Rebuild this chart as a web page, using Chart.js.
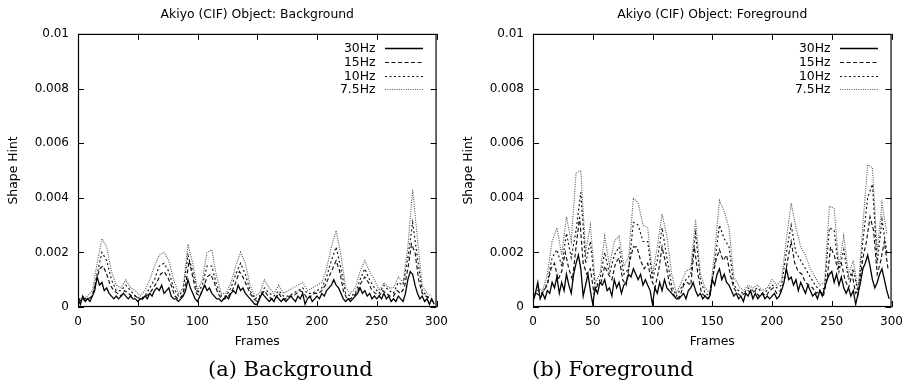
<!DOCTYPE html>
<html>
<head>
<meta charset="utf-8">
<script src="https://cdn.jsdelivr.net/npm/chart.js@4.4.1/dist/chart.umd.min.js"></script>
<style>
  html, body { margin: 0; padding: 0; background: #fff; }
  body { width: 913px; height: 383px; position: relative; overflow: hidden; }
  canvas { position: absolute; top: 0; }
  .caption { position: absolute; top: 359px; font-family: "DejaVu Serif", serif; font-size: 21px; line-height: 21px; color: #000; white-space: nowrap; }
</style>
</head>
<body>
<canvas id="chart-bg" width="456" height="383" style="left:0"></canvas>
<canvas id="chart-fg" width="456" height="383" style="left:455px"></canvas>
<div class="caption" style="left:208px">(a) Background</div>
<div class="caption" style="left:532px">(b) Foreground</div>
<script>
// y values are in units of 1e-4 (so 25 means 0.0025)
const Y_TICK_LABELS = ["0", "0.002", "0.004", "0.006", "0.008", "0.01"];
const SERIES_LABELS = ["30Hz", "15Hz", "10Hz", "7.5Hz"];
const FRAME_STEPS = [2, 3, 4, 4];

const bg30 = [
  3, 1, 4, 2, 3, 2, 4, 6, 11, 8,
  9, 6, 7, 5, 4, 3, 4, 3, 4, 5,
  4, 3, 4, 3, 3, 2, 3, 3, 4, 3,
  5, 4, 6, 7, 6, 8, 5, 6, 7, 4,
  3, 3, 2, 3, 4, 6, 10, 7, 5, 3,
  2, 4, 6, 8, 6, 7, 5, 4, 3, 3,
  2, 3, 4, 3, 5, 6, 5, 8, 6, 7,
  5, 4, 3, 2, 1, 1, 3, 5, 4, 3,
  2, 3, 2, 4, 3, 2, 3, 2, 3, 4,
  3, 2, 4, 3, 5, 1, 3, 4, 2, 3,
  4, 3, 5, 4, 6, 7, 8, 10, 8, 7,
  5, 3, 2, 3, 2, 3, 4, 5, 7, 5,
  6, 4, 5, 3, 4, 3, 4, 3, 5, 3,
  4, 2, 3, 2, 4, 3, 2, 5, 10, 13,
  12, 8, 5, 3, 4, 2, 3, 1, 3, 1
];
const bg15 = [
  3, 2, 3, 3, 4, 9, 14, 15, 12, 8,
  6, 5, 4, 6, 5, 4, 4, 3, 3, 4,
  5, 7, 9, 12, 13, 11, 8, 4, 3, 4,
  8, 17, 11, 5, 4, 7, 11, 12, 9, 5,
  3, 3, 4, 6, 9, 13, 11, 8, 5, 3,
  2, 4, 6, 4, 3, 3, 5, 3, 3, 4,
  4, 5, 6, 5, 3, 4, 5, 5, 6, 8,
  11, 14, 17, 13, 6, 3, 3, 4, 6, 9,
  11, 9, 6, 5, 4, 6, 5, 4, 4, 6,
  5, 7, 14, 23, 20, 10, 5, 4, 3, 2
];
const bg10 = [
  3, 3, 3, 4, 12, 20, 17, 10, 6, 6,
  8, 6, 4, 3, 4, 7, 10, 15, 16, 13,
  7, 4, 6, 19, 13, 5, 8, 15, 15, 8,
  4, 4, 7, 12, 16, 12, 6, 3, 4, 7,
  5, 4, 6, 4, 4, 5, 6, 7, 5, 5,
  6, 7, 11, 17, 22, 14, 5, 4, 5, 10,
  14, 10, 7, 5, 8, 6, 5, 9, 8, 18,
  31, 18, 6, 4, 3
];
const bg75 = [
  3, 3, 4, 6, 16, 25, 22, 13, 8, 7,
  10, 7, 6, 4, 6, 10, 15, 19, 20, 17,
  10, 5, 7, 23, 16, 6, 10, 20, 21, 11,
  5, 5, 9, 15, 20, 16, 8, 4, 5, 10,
  7, 5, 8, 5, 6, 7, 8, 9, 6, 7,
  8, 9, 14, 22, 28, 19, 7, 5, 7, 13,
  17, 13, 10, 6, 9, 7, 7, 11, 9, 22,
  43, 25, 8, 5, 4
];

const fg30 = [
  2, 5, 9, 3, 5, 3, 6, 5, 9, 7,
  11, 5, 9, 6, 12, 8, 5, 12, 16, 19,
  14, 4, 8, 12, 6, 1, 7, 5, 9, 8,
  10, 6, 7, 4, 10, 7, 9, 5, 8, 9,
  12, 11, 14, 12, 10, 12, 8, 10, 8, 6,
  1, 7, 5, 9, 6, 10, 7, 6, 5, 4,
  3, 3, 4, 5, 3, 6, 7, 9, 6, 4,
  5, 3, 4, 3, 4, 10, 8, 12, 14, 10,
  12, 9, 8, 6, 4, 5, 3, 4, 2, 5,
  4, 6, 3, 5, 3, 4, 5, 3, 4, 3,
  4, 5, 3, 4, 6, 9, 14, 10, 11, 8,
  10, 6, 9, 7, 5, 8, 6, 4, 5, 3,
  6, 4, 7, 10, 12, 13, 9, 12, 8, 11,
  7, 5, 7, 4, 6, 1, 5, 9, 14, 16,
  19, 15, 10, 7, 9, 12, 14, 10, 6, 3
];
const fg15 = [
  3, 5, 4, 6, 8, 14, 16, 10, 13, 20,
  14, 10, 22, 33, 16, 12, 14, 5, 8, 9,
  15, 12, 10, 16, 18, 10, 8, 17, 22, 22,
  17, 14, 16, 10, 7, 13, 22, 16, 9, 5,
  3, 4, 8, 9, 8, 22, 12, 5, 4, 3,
  10, 17, 21, 17, 19, 12, 7, 5, 4, 5,
  6, 5, 6, 4, 5, 4, 6, 7, 5, 6,
  9, 17, 24, 16, 13, 12, 9, 8, 7, 5,
  6, 4, 10, 22, 19, 14, 16, 10, 7, 12,
  5, 7, 18, 24, 33, 28, 12, 17, 24, 14
];
const fg10 = [
  3, 6, 5, 9, 18, 21, 15, 27, 18, 28,
  42, 16, 24, 7, 10, 20, 12, 19, 22, 12,
  14, 31, 30, 24, 24, 10, 17, 29, 18, 8,
  4, 7, 10, 12, 27, 10, 5, 4, 16, 30,
  25, 22, 8, 6, 5, 7, 6, 7, 5, 6,
  8, 7, 8, 20, 30, 20, 17, 14, 11, 8,
  6, 7, 29, 28, 13, 21, 10, 14, 5, 24,
  40, 45, 16, 32, 20
];
const fg75 = [
  4, 7, 6, 12, 24, 29, 19, 33, 24, 49,
  50, 20, 30, 9, 12, 26, 15, 24, 26, 15,
  18, 40, 38, 30, 29, 12, 22, 34, 26, 12,
  5, 9, 13, 14, 32, 12, 7, 5, 20, 39,
  35, 29, 11, 8, 6, 8, 7, 8, 6, 7,
  10, 8, 10, 25, 38, 29, 22, 19, 14, 11,
  8, 9, 37, 36, 15, 26, 12, 17, 6, 30,
  52, 51, 20, 38, 27
];

const LINE_STYLES = [
  { color: "#000", dash: [], width: 1.3 },
  { color: "#111", dash: [4, 2.5], width: 1.15 },
  { color: "#111", dash: [2, 2.5], width: 1.15 },
  { color: "#555", dash: [1, 1.3], width: 1.1 }
];

Chart.defaults.font.family = "DejaVu Sans";
Chart.defaults.font.size = 12;
Chart.defaults.color = "#000";

// gnuplot-like frame, inward ticks on all four sides and the key
const gnuplotFrame = {
  id: "gnuplotFrame",
  afterDraw(chart) {
    const { ctx, chartArea: a, scales } = chart;
    ctx.save();
    ctx.strokeStyle = "#000";
    ctx.lineWidth = 1.2;
    ctx.setLineDash([]);
    ctx.strokeRect(a.left + 0.5, a.top + 0.5, a.right - a.left - 1, a.bottom - a.top - 1);
    const len = 6;
    ctx.lineWidth = 1;
    ctx.beginPath();
    scales.x.ticks.forEach(t => {
      const x = Math.round(scales.x.getPixelForValue(t.value)) + 0.5;
      ctx.moveTo(x, a.bottom); ctx.lineTo(x, a.bottom - len);
      ctx.moveTo(x, a.top); ctx.lineTo(x, a.top + len);
    });
    scales.y.ticks.forEach(t => {
      const y = Math.round(scales.y.getPixelForValue(t.value)) + 0.5;
      ctx.moveTo(a.left, y); ctx.lineTo(a.left + len, y);
      ctx.moveTo(a.right, y); ctx.lineTo(a.right - len, y);
    });
    ctx.stroke();

    ctx.font = "12.4px 'DejaVu Sans'";
    ctx.fillStyle = "#000";
    ctx.textAlign = "right";
    ctx.textBaseline = "middle";
    chart.data.datasets.forEach((ds, i) => {
      const y = Math.round(a.top + 14.3 + i * 13.7) + 0.5;
      ctx.fillText(ds.label, a.left + 297.5, y);
      ctx.strokeStyle = ds.borderColor;
      ctx.lineWidth = ds.borderWidth;
      ctx.setLineDash(ds.borderDash);
      ctx.beginPath();
      ctx.moveTo(a.left + 307, y);
      ctx.lineTo(a.left + 345, y);
      ctx.stroke();
    });
    ctx.restore();
  }
};

function buildDatasets(seriesList) {
  return seriesList.map((values, i) => ({
    label: SERIES_LABELS[i],
    data: values.map((v, k) => ({ x: k * FRAME_STEPS[i], y: v })),
    borderColor: LINE_STYLES[i].color,
    borderDash: LINE_STYLES[i].dash,
    borderWidth: LINE_STYLES[i].width,
    pointRadius: 0,
    tension: 0,
    fill: false
  }));
}

function makeChart(canvasId, title, seriesList) {
  return new Chart(document.getElementById(canvasId), {
    type: "line",
    data: { datasets: buildDatasets(seriesList) },
    options: {
      responsive: false,
      animation: false,
      layout: { padding: { left: 0, top: 0, right: 15, bottom: 33 } },
      plugins: {
        legend: { display: false },
        tooltip: { enabled: false },
        title: {
          display: true,
          text: title,
          fullSize: false,
          color: "#000",
          font: { size: 12.4, weight: "normal" },
          padding: { top: 7, bottom: 12 }
        }
      },
      scales: {
        x: {
          type: "linear",
          min: 0,
          max: 300,
          afterFit: scale => { scale.height = 43; },
          grid: { display: false, drawTicks: false },
          border: { display: false },
          ticks: { stepSize: 50, padding: 8, maxRotation: 0 },
          title: { display: true, text: "Frames", font: { size: 12.4 }, padding: { top: 0, bottom: 1 } }
        },
        y: {
          min: 0,
          max: 100,
          afterFit: scale => { scale.width = 78; },
          grid: { display: false, drawTicks: false },
          border: { display: false },
          ticks: { stepSize: 20, padding: 9, callback: (value, index) => Y_TICK_LABELS[index] },
          title: { display: true, text: "Shape Hint", font: { size: 12.4 }, padding: { top: 6.5, bottom: 0 } }
        }
      }
    },
    plugins: [gnuplotFrame]
  });
}

makeChart("chart-bg", "Akiyo (CIF) Object: Background", [bg30, bg15, bg10, bg75]);
makeChart("chart-fg", "Akiyo (CIF) Object: Foreground", [fg30, fg15, fg10, fg75]);
</script>
</body>
</html>
